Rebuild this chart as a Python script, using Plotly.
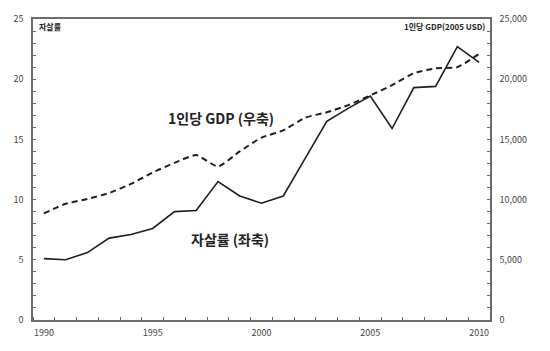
import plotly.graph_objects as go

years = list(range(1990, 2011))
suicide_rate = [5.1, 5.0, 5.6, 6.8, 7.1, 7.6, 9.0, 9.1, 11.5, 10.3, 9.7,
                10.3, 13.4, 16.5, 17.6, 18.6, 15.9, 19.3, 19.4, 22.7, 21.4]
gdp_per_capita = [8850, 9650, 10050, 10550, 11300, 12250, 13050, 13700, 12750, 14000, 15150,
                  15750, 16800, 17250, 17850, 18650, 19500, 20500, 20900, 21000, 22100]
x_labels = [1990, 1995, 2000, 2005, 2010]
left_ticks = [0, 5, 10, 15, 20, 25]
right_ticks = [0, 5000, 10000, 15000, 20000, 25000]

FONT = "Noto Sans CJK KR"
AX = "#6b6b6b"

fig = go.Figure()
fig.add_trace(go.Scatter(x=years, y=suicide_rate, mode="lines", name="자살률 (좌축)",
                         line=dict(color="#1e1e1e", width=1.6), yaxis="y"))
fig.add_trace(go.Scatter(x=years, y=gdp_per_capita, mode="lines", name="1인당 GDP (우축)",
                         line=dict(color="#1e1e1e", width=2, dash="6px,4px", shape="spline", smoothing=0.5),
                         yaxis="y2"))

fig.update_layout(
    width=550, height=351,
    margin=dict(l=33, r=60, t=16, b=27),
    paper_bgcolor="white", plot_bgcolor="white",
    showlegend=False,
    font=dict(family=FONT, size=9, color="#444"),
    xaxis=dict(range=[1989.5, 2010.5], tickvals=x_labels, ticktext=[str(v) for v in x_labels],
               ticks="", showgrid=False, zeroline=False,
               showline=True, linecolor=AX, linewidth=1.5, mirror=True,
               minor=dict(ticks="inside", tick0=1989.5, dtick=1, ticklen=3, tickcolor=AX, showgrid=False),
               tickfont=dict(size=9, color="#444"), ticklabelstandoff=3),
    yaxis=dict(range=[0, 25], tickvals=left_ticks, ticks="inside", ticklen=3, tickcolor=AX,
               showgrid=False, zeroline=False, showline=True, linecolor=AX, linewidth=1.5,
               minor=dict(ticks="inside", dtick=1, ticklen=3, tickcolor=AX, showgrid=False),
               tickfont=dict(size=9, color="#444"), ticklabelstandoff=6),
    yaxis2=dict(range=[0, 25000], tickvals=right_ticks, tickformat=",", overlaying="y", side="right",
                ticks="inside", ticklen=3, tickcolor=AX,
                showgrid=False, zeroline=False, showline=True, linecolor=AX, linewidth=1.5,
                minor=dict(ticks="inside", dtick=1000, ticklen=3, tickcolor=AX, showgrid=False),
                tickfont=dict(size=9, color="#444"), ticklabelstandoff=6),
)

fig.add_annotation(text="<b>자살률</b>", xref="paper", yref="paper", x=0.008, y=0.975,
                   xanchor="left", yanchor="middle", showarrow=False,
                   font=dict(size=8, color="#222", family=FONT))
fig.add_annotation(text="<b>1인당 GDP(2005 USD)</b>", xref="paper", yref="paper", x=0.993, y=0.975,
                   xanchor="right", yanchor="middle", showarrow=False,
                   font=dict(size=8, color="#222", family=FONT))
fig.add_annotation(text="<b>1인당 GDP (우축)</b>", xref="x", yref="y", x=1998.15, y=16.8,
                   showarrow=False, font=dict(size=14, color="#222", family=FONT))
fig.add_annotation(text="<b>자살률 (좌축)</b>", xref="x", yref="y", x=1998.55, y=6.75,
                   showarrow=False, font=dict(size=14, color="#222", family=FONT))

fig.write_html("out.html")
